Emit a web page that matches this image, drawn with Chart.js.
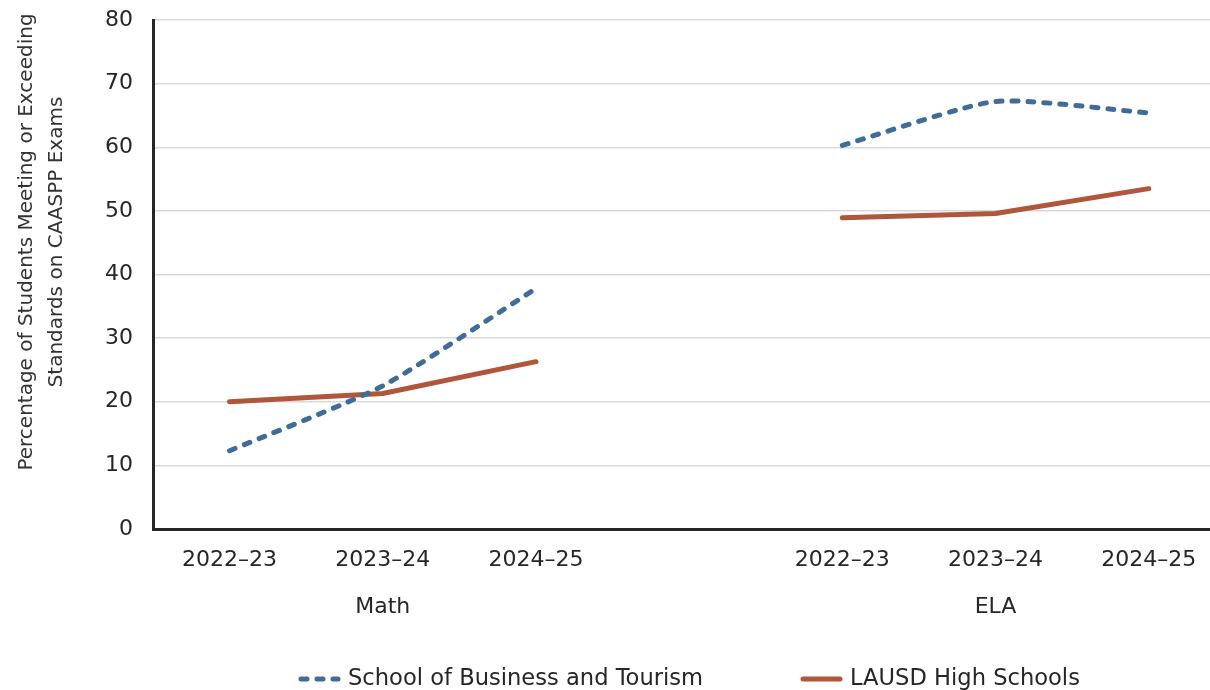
<!DOCTYPE html>
<html><head><meta charset="utf-8">
<script src="https://cdn.jsdelivr.net/npm/chart.js@4.4.1/dist/chart.umd.min.js"></script>
<style>html,body{margin:0;padding:0;background:#fff;overflow:hidden}#wrap{position:relative;width:1210px;height:690px}</style>
</head><body><div id="wrap"><canvas id="c" width="1210" height="690"></canvas></div>
<script>
const categories = ['2022\u201323','2023\u201324','2024\u201325','','2022\u201323','2023\u201324','2024\u201325'];
const groups = ['Math','ELA'];
const groupCenters = [1,5];
const schoolMath = [12.3,22.5,37.8];
const schoolELA = [60.3,67.2,65.4];
const lausdMath = [20.0,21.3,26.3];
const lausdELA = [48.9,49.6,53.5];
const yTicks = [0,10,20,30,40,50,60,70,80];
const seriesNames = ['School of Business and Tourism','LAUSD High Schools'];
const yTitle = ['Percentage of Students Meeting or Exceeding','Standards on CAASPP Exams'];

const FONT = '"DejaVu Sans", sans-serif';
const TXT = '#262626';
const BLUE = '#3f6d98';
const RED = '#b0563a';

function toPoints(a, b){
  const pts = a.map((v,i)=>({x:i,y:v}));
  pts.push({x:a.length,y:null});
  b.forEach((v,i)=>pts.push({x:a.length+1+i,y:v}));
  return pts;
}

const annotate = {
  id:'annotate',
  afterDraw(chart){
    const ctx = chart.ctx, xs = chart.scales.x;
    ctx.save();
    ctx.fillStyle = TXT;
    ctx.textAlign = 'center';
    ctx.textBaseline = 'middle';
    ctx.font = '22px ' + FONT;
    groups.forEach((g,i)=>ctx.fillText(g, xs.getPixelForValue(groupCenters[i]), 607));
    // y title
    ctx.font = '20px ' + FONT;
    ctx.fillStyle = '#333';
    yTitle.forEach((t,i)=>{
      ctx.save();
      ctx.translate(27 + i*30, 242);
      ctx.rotate(-Math.PI/2);
      ctx.fillText(t, 0, 0);
      ctx.restore();
    });
    // legend
    const lx = [298, 800];
    ctx.font = '22.6px ' + FONT;
    ctx.textAlign = 'left';
    ctx.fillStyle = TXT;
    chart.data.datasets.forEach((ds,i)=>{
      ctx.save();
      ctx.strokeStyle = ds.borderColor;
      ctx.lineWidth = ds.borderWidth;
      ctx.lineCap = ds.borderCapStyle || 'butt';
      ctx.setLineDash(ds.borderDash || []);
      ctx.beginPath();
      ctx.moveTo(lx[i] + 3, 679);
      ctx.lineTo(lx[i] + 40, 679);
      ctx.stroke();
      ctx.restore();
      ctx.fillText(ds.label, lx[i] + 50, 679);
    });
    ctx.restore();
  }
};

new Chart(document.getElementById('c'), {
  type:'line',
  data:{
    datasets:[
      {label:seriesNames[0], data:toPoints(schoolMath, schoolELA), borderColor:BLUE, backgroundColor:BLUE,
       borderWidth:5, borderDash:[6,10], borderCapStyle:'round', pointRadius:0, tension:0.2, spanGaps:false, fill:false},
      {label:seriesNames[1], data:toPoints(lausdMath, lausdELA), borderColor:RED, backgroundColor:RED,
       borderWidth:5, borderCapStyle:'round', borderJoinStyle:'round', pointRadius:0, tension:0, spanGaps:false, fill:false}
    ]
  },
  options:{
    responsive:false, animation:false, devicePixelRatio:1,
    layout:{padding:{top:20,left:0,right:0,bottom:0}},
    plugins:{legend:{display:false}, tooltip:{enabled:false}},
    scales:{
      x:{type:'linear', min:-0.5, max:6.4,
        grid:{display:false, drawTicks:false},
        border:{color:TXT, width:3},
        afterBuildTicks:s=>{ s.ticks = categories.map((c,i)=>({value:i})).filter(t=>categories[t.value]!==''); },
        ticks:{autoSkip:false, maxRotation:0, padding:18, color:TXT, font:{family:FONT, size:22},
          callback:v=>categories[v]},
        afterFit:s=>{ s.height = 161; s.paddingLeft = 0; s.paddingRight = 0; }
      },
      y:{min:0, max:80,
        afterBuildTicks:s=>{ s.ticks = yTicks.map(v=>({value:v})); },
        grid:{color:'#d9d9d9', lineWidth:1.5, drawTicks:false},
        border:{color:TXT, width:3},
        ticks:{padding:20, color:TXT, font:{family:FONT, size:22}},
        afterFit:s=>{ s.width = 153; s.paddingTop = 0; s.paddingBottom = 0; }
      }
    }
  },
  plugins:[annotate]
});
</script>
</body></html>
